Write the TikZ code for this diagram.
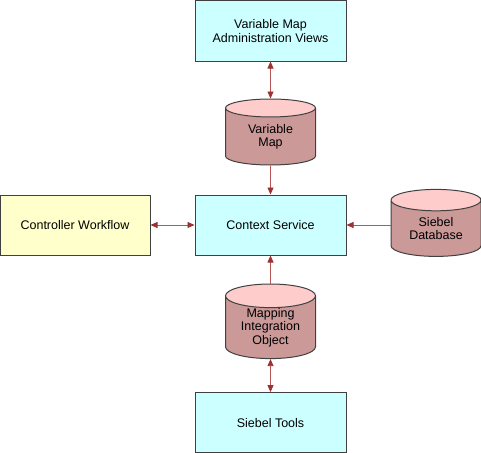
\documentclass[tikz,border=0pt]{standalone}
\usepackage{fontspec}
\setsansfont{Liberation Sans}
\usetikzlibrary{positioning,shapes.geometric,arrows.meta}
\definecolor{boxline}{HTML}{404040}
\definecolor{boxblue}{HTML}{CCFFFF}
\definecolor{boxyellow}{HTML}{FFFFCC}
\definecolor{storebody}{HTML}{CC9999}
\definecolor{storetop}{HTML}{FFCCCC}
\definecolor{linkred}{HTML}{B85555}
\definecolor{tipred}{HTML}{993333}
\begin{document}
\begin{tikzpicture}[x=1pt, y=1pt, node distance=37pt,
    >={Triangle[length=7pt,width=6pt,color=tipred]},
    box/.style={rectangle, draw=boxline, line width=1pt, fill=boxblue, minimum width=151pt, minimum height=60pt, align=center},
    store/.style={cylinder, shape border rotate=90, draw=boxline, line width=1pt, cylinder uses custom fill, cylinder body fill=storebody, cylinder end fill=storetop, aspect=0.4, minimum width=90pt, minimum height=66pt, align=center, inner sep=0pt}]
        \tikzstyle{every node}=[font=\sffamily\fontsize{12.5}{13.5}\selectfont]
        \useasboundingbox (0,0) rectangle (481,-452);

          \node[box] (admin) at (270.5,-31) {Variable Map\\Administration Views};
          \node[store] (varmap) [below=37pt of admin] {Variable\\Map};
          \node[box] (context) [below=29pt of varmap] {Context Service};
          \node[box, fill=boxyellow, minimum width=150pt] (ctrl) [left=44pt of context] {Controller Workflow};
          \node[store, minimum height=67pt] (siebeldb) [right=44pt of context, yshift=-3.5pt] {Siebel\\Database};
          \node[store] (mapping) [below=28pt of context] {Mapping\\Integration\\Object};
          \node[box] (tools) [below=33pt of mapping] {Siebel Tools};

          \path[draw=linkred, line width=0.8pt]
            (admin) edge[<->] (varmap)
            (varmap) edge[->] (context)
            (ctrl) edge[<->] (context)
            (siebeldb.west |- context) edge[->] (context)
            (mapping) edge[->] (context)
            (mapping) edge[<->] (tools);

        \end{tikzpicture}
\end{document}
